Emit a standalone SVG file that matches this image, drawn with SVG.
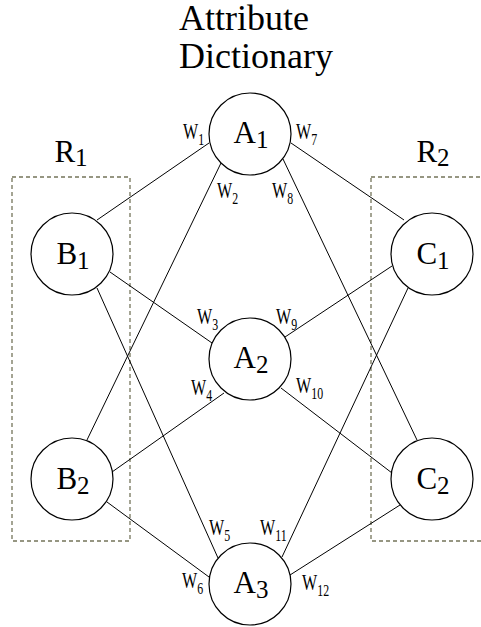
<svg xmlns="http://www.w3.org/2000/svg" width="481" height="627" viewBox="0 0 481 627">
<style>
.bg{fill:#fff}
.node circle{fill:#fff;stroke:#000;stroke-width:1.2}
.lbl{font-family:'Liberation Serif','Times New Roman',serif;font-size:31px;fill:#000;text-anchor:middle}
.sub{font-size:25px}
.w{font-family:'Liberation Serif','Times New Roman',serif;font-size:23px;fill:#000}
.ws{font-size:17px}
.title{font-family:'Liberation Serif','Times New Roman',serif;font-size:36px;fill:#000}
.region{fill:none;stroke:#74745a;stroke-width:1.3;stroke-dasharray:4,3}
#connectors line{stroke:#000;stroke-width:1}
</style>
<rect class="bg" x="0" y="0" width="481" height="627"/>
<g id="title">
<text class="title" x="179" y="30">Attribute</text>
<text class="title" x="179" y="68">Dictionary</text>
</g>
<g id="R1">
<rect class="region" x="12" y="177" width="118" height="364"/>
<text class="lbl" x="71" y="162">R<tspan class="sub" dy="4">1</tspan></text>
</g>
<g id="R2">
<rect class="region" x="371" y="177" width="125" height="364"/>
<text class="lbl" x="433" y="162">R<tspan class="sub" dy="4">2</tspan></text>
</g>
<g id="connectors">
<line x1="209" y1="143" x2="97" y2="220"/>
<line x1="291" y1="143" x2="404" y2="220"/>
<line x1="221" y1="163" x2="86" y2="442"/>
<line x1="283" y1="159" x2="417" y2="440"/>
<line x1="212" y1="343" x2="110" y2="272"/>
<line x1="285" y1="337" x2="392" y2="266"/>
<line x1="224" y1="393" x2="112" y2="472"/>
<line x1="281" y1="388" x2="392" y2="473"/>
<line x1="97" y1="288" x2="218" y2="558"/>
<line x1="107" y1="502" x2="209" y2="577"/>
<line x1="408" y1="288" x2="282" y2="557"/>
<line x1="400" y1="505" x2="290" y2="575"/>
</g>
<g id="weights">
<text class="w" transform="translate(183,139) scale(0.7,1)">W<tspan class="ws" dy="6">1</tspan></text>
<text class="w" transform="translate(296,139) scale(0.7,1)">W<tspan class="ws" dy="6">7</tspan></text>
<text class="w" transform="translate(217,198) scale(0.7,1)">W<tspan class="ws" dy="6">2</tspan></text>
<text class="w" transform="translate(272,198) scale(0.7,1)">W<tspan class="ws" dy="6">8</tspan></text>
<text class="w" transform="translate(197,324) scale(0.7,1)">W<tspan class="ws" dy="6">3</tspan></text>
<text class="w" transform="translate(276,324) scale(0.7,1)">W<tspan class="ws" dy="6">9</tspan></text>
<text class="w" transform="translate(191,395) scale(0.7,1)">W<tspan class="ws" dy="6">4</tspan></text>
<text class="w" transform="translate(296,393) scale(0.7,1)">W<tspan class="ws" dy="6">10</tspan></text>
<text class="w" transform="translate(209,535) scale(0.7,1)">W<tspan class="ws" dy="6">5</tspan></text>
<text class="w" transform="translate(260,535) scale(0.7,1)">W<tspan class="ws" dy="6">11</tspan></text>
<text class="w" transform="translate(182,588) scale(0.7,1)">W<tspan class="ws" dy="6">6</tspan></text>
<text class="w" transform="translate(302,590) scale(0.7,1)">W<tspan class="ws" dy="6">12</tspan></text>
</g>
<g id="A1" class="node"><circle cx="250" cy="134" r="41"/><text class="lbl" x="251" y="143">A<tspan class="sub" dy="5">1</tspan></text></g>
<g id="A2" class="node"><circle cx="250" cy="359" r="41"/><text class="lbl" x="251" y="368">A<tspan class="sub" dy="5">2</tspan></text></g>
<g id="A3" class="node"><circle cx="250" cy="584" r="41"/><text class="lbl" x="251" y="593">A<tspan class="sub" dy="5">3</tspan></text></g>
<g id="B1" class="node"><circle cx="72" cy="254" r="41"/><text class="lbl" x="73" y="264">B<tspan class="sub" dy="5">1</tspan></text></g>
<g id="B2" class="node"><circle cx="72" cy="479" r="41"/><text class="lbl" x="73" y="489">B<tspan class="sub" dy="5">2</tspan></text></g>
<g id="C1" class="node"><circle cx="432" cy="254" r="41"/><text class="lbl" x="433" y="264">C<tspan class="sub" dy="5">1</tspan></text></g>
<g id="C2" class="node"><circle cx="432" cy="479" r="41"/><text class="lbl" x="433" y="489">C<tspan class="sub" dy="5">2</tspan></text></g>
</svg>
